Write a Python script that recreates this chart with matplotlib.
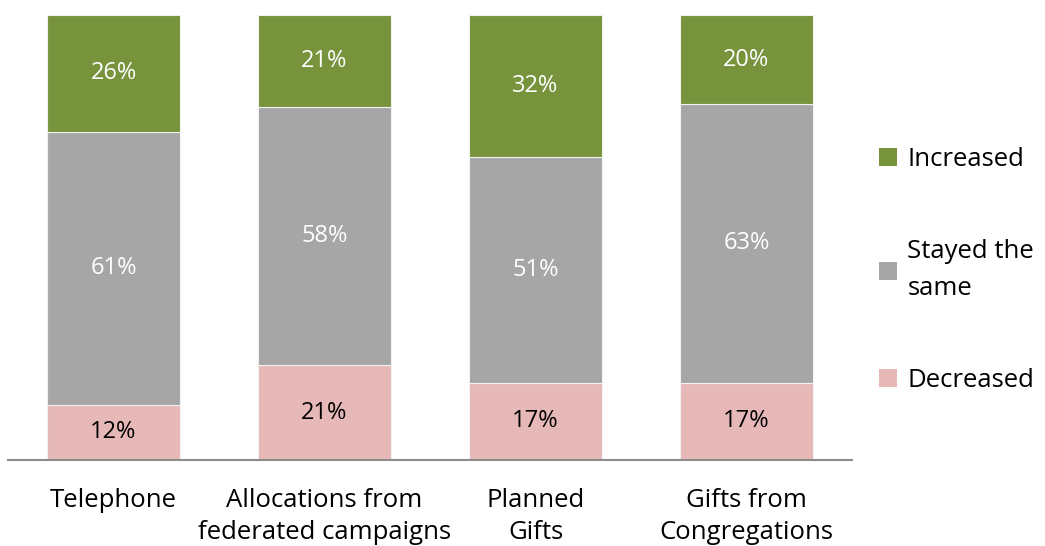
import matplotlib.pyplot as plt
from matplotlib.patches import Patch

categories = ["Telephone", "Allocations from\nfederated campaigns", "Planned\nGifts", "Gifts from\nCongregations"]
decreased = [12.4, 21.3, 17.4, 17.4]
stayed = [61.4, 58.0, 50.7, 62.6]
increased = [26.2, 20.7, 31.9, 20.0]

series = [
    ("Decreased", decreased, "#E6B9B8", "black"),
    ("Stayed the\nsame", stayed, "#A6A6A6", "white"),
    ("Increased", increased, "#77933C", "white"),
]

plt.rcParams["font.family"] = ["Open Sans", "DejaVu Sans"]

fig = plt.figure(figsize=(10.45, 5.46), dpi=100)
ax = fig.add_axes([8 / 1045, 86 / 546, 844 / 1045, 445 / 546])

x = range(len(categories))
bottom = [0] * len(categories)
handles = []
for name, vals, color, txt in series:
    bars = ax.bar(x, vals, width=0.635, bottom=bottom, color=color,
                  edgecolor="#f2f2f2", linewidth=0.8)
    for b, v in zip(bars, vals):
        ax.text(b.get_x() + b.get_width() / 2, b.get_y() + b.get_height() / 2,
                "%.0f%%" % v, ha="center", va="center", color=txt, fontsize=17)
    bottom = [a + b for a, b in zip(bottom, vals)]
    handles.append(Patch(facecolor=color, label=name))

ax.set_xlim(-0.5, 3.5)
ax.set_ylim(0, 100)
ax.set_xticks(list(x))
ax.set_xticklabels(categories, fontsize=18.5, linespacing=1.4)
ax.tick_params(axis="x", length=0, pad=20)
ax.set_yticks([])
for s in ["top", "left", "right"]:
    ax.spines[s].set_visible(False)
ax.spines["bottom"].set_color("#8c8c8c")
ax.spines["bottom"].set_linewidth(1.5)

leg = fig.legend(handles=handles[::-1], loc="center left",
                 bbox_to_anchor=(856 / 1045, 276 / 546), frameon=False,
                 fontsize=18.5, handlelength=0.7, handleheight=0.7,
                 handletextpad=0.4, labelspacing=2.6)
for t in leg.get_texts():
    t.set_linespacing(1.65)

fig.savefig("out.png", dpi=100)
